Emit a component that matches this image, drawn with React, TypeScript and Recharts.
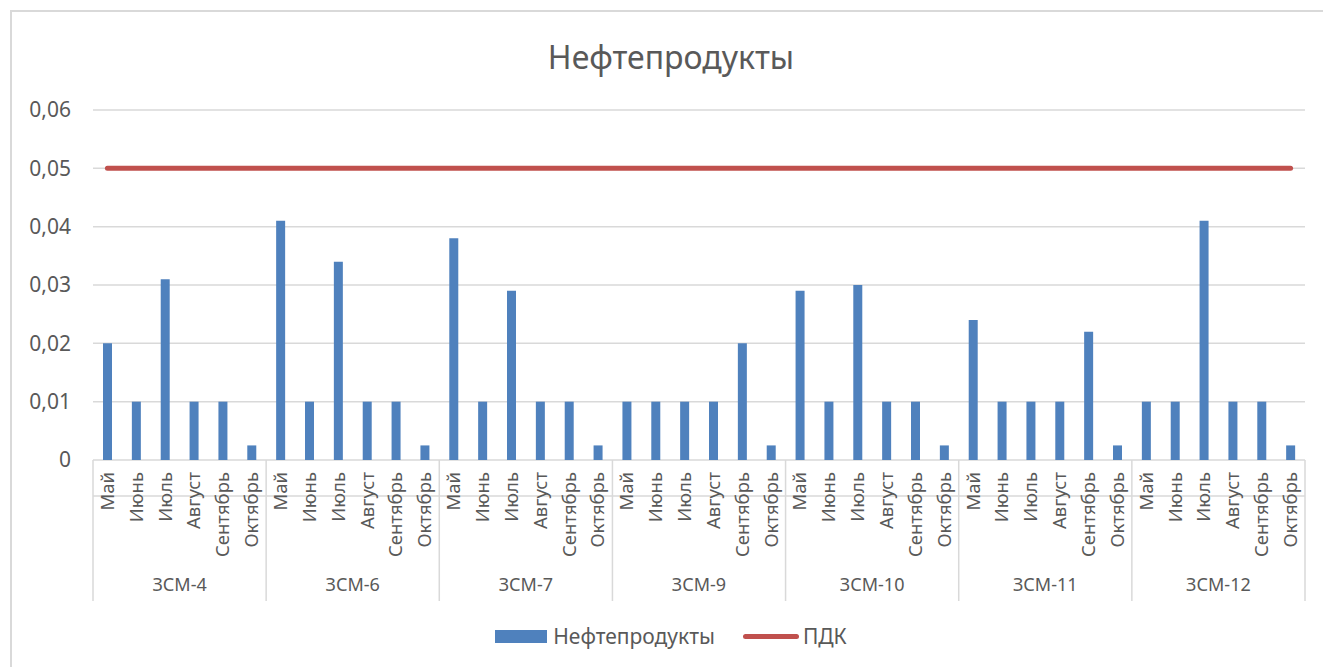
import React from "react";
import {
  ComposedChart,
  Bar,
  Line,
  XAxis,
  YAxis,
  CartesianGrid,
  Legend,
} from "recharts";

// ---------------------------------------------------------------------------
// Data
// ---------------------------------------------------------------------------

const stations = ["ЗСМ-4", "ЗСМ-6", "ЗСМ-7", "ЗСМ-9", "ЗСМ-10", "ЗСМ-11", "ЗСМ-12"];
const months = ["Май", "Июнь", "Июль", "Август", "Сентябрь", "Октябрь"];

const zsm4 = [0.02, 0.01, 0.031, 0.01, 0.01, 0.0025];
const zsm6 = [0.041, 0.01, 0.034, 0.01, 0.01, 0.0025];
const zsm7 = [0.038, 0.01, 0.029, 0.01, 0.01, 0.0025];
const zsm9 = [0.01, 0.01, 0.01, 0.01, 0.02, 0.0025];
const zsm10 = [0.029, 0.01, 0.03, 0.01, 0.01, 0.0025];
const zsm11 = [0.024, 0.01, 0.01, 0.01, 0.022, 0.0025];
const zsm12 = [0.01, 0.01, 0.041, 0.01, 0.01, 0.0025];

const seriesByStation = [zsm4, zsm6, zsm7, zsm9, zsm10, zsm11, zsm12];
const pdk = 0.05;
const yTicks = [0, 0.01, 0.02, 0.03, 0.04, 0.05, 0.06];

// ---------------------------------------------------------------------------
// Layout / style
// ---------------------------------------------------------------------------

const FONT = "'Noto Sans', 'Open Sans', sans-serif";
const TEXT = "#595959";
const GRID = "#D9D9D9";
const BAR = "#4F81BD";
const LINE = "#C0504D";

const WIDTH = 1323;
const HEIGHT = 667;
const PLOT_LEFT = 93;
const PLOT_RIGHT = 1305;
const PLOT_BOTTOM = 460;
const SEPARATOR_BOTTOM = 601;
const CATEGORY_COUNT = stations.length * months.length;
const STEP = (PLOT_RIGHT - PLOT_LEFT) / CATEGORY_COUNT;

const chartData = stations.flatMap((station, si) =>
  months.map((month, mi) => ({
    key: `${station}-${month}`,
    month,
    group: station,
    value: seriesByStation[si][mi],
    pdk,
  }))
);

// ---------------------------------------------------------------------------
// Ticks
// ---------------------------------------------------------------------------

function MonthTick(props: any) {
  const { x, index, payload } = props;
  const idx = index ?? payload?.index ?? 0;
  const label = chartData[idx]?.month ?? payload.value;
  return (
    <g>
      {idx % months.length === 0 && (
        <line
          x1={x - STEP / 2}
          x2={x - STEP / 2}
          y1={PLOT_BOTTOM}
          y2={SEPARATOR_BOTTOM}
          stroke={GRID}
          strokeWidth={1.5}
        />
      )}
      {idx === CATEGORY_COUNT - 1 && (
        <line
          x1={x + STEP / 2}
          x2={x + STEP / 2}
          y1={PLOT_BOTTOM}
          y2={SEPARATOR_BOTTOM}
          stroke={GRID}
          strokeWidth={1.5}
        />
      )}
      <g transform={`translate(${x},${PLOT_BOTTOM + 12})`}>
        <text
          transform="rotate(-90)"
          x={0}
          y={0}
          dy="0.35em"
          textAnchor="end"
          fill={TEXT}
          fontSize={18.5}
          fontFamily={FONT}
        >
          {label}
        </text>
      </g>
    </g>
  );
}

function GroupTick(props: any) {
  const { x, index, payload } = props;
  const idx = index ?? payload?.index ?? 0;
  if (idx % months.length !== 2) return null;
  return (
    <text
      x={x + STEP / 2}
      y={585}
      dy="0.35em"
      textAnchor="middle"
      fill={TEXT}
      fontSize={18}
      fontFamily={FONT}
    >
      {chartData[idx].group}
    </text>
  );
}

// ---------------------------------------------------------------------------
// Legend
// ---------------------------------------------------------------------------

function ChartLegend() {
  return (
    <div
      style={{
        height: 40,
        display: "flex",
        alignItems: "center",
        justifyContent: "center",
        fontFamily: FONT,
        fontSize: 21,
        color: TEXT,
        paddingLeft: 4,
      }}
    >
      <span style={{ display: "inline-block", width: 52, height: 13, background: BAR, marginRight: 6 }} />
      <span>Нефтепродукты</span>
      <span
        style={{
          display: "inline-block",
          width: 56,
          height: 5,
          borderRadius: 3,
          background: LINE,
          marginLeft: 28,
          marginRight: 4,
        }}
      />
      <span>ПДК</span>
    </div>
  );
}

// ---------------------------------------------------------------------------
// App
// ---------------------------------------------------------------------------

export default function App() {
  return (
    <div
      style={{
        position: "absolute",
        left: 0,
        top: 0,
        width: WIDTH,
        height: HEIGHT,
        background: "#fff",
        overflow: "hidden",
      }}
    >
      <div
        style={{
          position: "absolute",
          left: 10,
          top: 10,
          width: 1320,
          height: 680,
          border: `2px solid ${GRID}`,
          boxSizing: "border-box",
        }}
      />
      <div
        style={{
          position: "absolute",
          left: 0,
          width: 1342,
          top: 36,
          textAlign: "center",
          fontFamily: FONT,
          fontSize: 32,
          color: TEXT,
          lineHeight: "42px",
        }}
      >
        Нефтепродукты
      </div>
      <div style={{ position: "absolute", left: 0, top: 0 }}>
        <ComposedChart
          width={WIDTH}
          height={HEIGHT}
          data={chartData}
          margin={{ top: 110, right: WIDTH - PLOT_RIGHT, left: PLOT_LEFT - 60, bottom: 26 }}
        >
          <CartesianGrid vertical={false} stroke={GRID} strokeWidth={1.5} />
          <XAxis
            xAxisId="month"
            dataKey="key"
            interval={0}
            height={105}
            tickLine={false}
            axisLine={{ stroke: GRID, strokeWidth: 1.5 }}
            tick={<MonthTick />}
          />
          <XAxis
            xAxisId="group"
            dataKey="key"
            interval={0}
            height={36}
            tickLine={false}
            axisLine={false}
            tick={<GroupTick />}
          />
          <YAxis
            width={60}
            domain={[0, 0.06]}
            ticks={yTicks}
            interval={0}
            axisLine={false}
            tickLine={false}
            tickMargin={16}
            tick={{ fill: TEXT, fontSize: 21, fontFamily: FONT }}
            tickFormatter={(v: number) => (v === 0 ? "0" : v.toFixed(2).replace(".", ","))}
          />
          <Legend verticalAlign="bottom" height={40} content={<ChartLegend />} wrapperStyle={{ bottom: 11 }} />
          <Bar
            xAxisId="month"
            dataKey="value"
            name="Нефтепродукты"
            fill={BAR}
            barSize={9}
            isAnimationActive={false}
          />
          <Line
            xAxisId="month"
            dataKey="pdk"
            name="ПДК"
            type="linear"
            stroke={LINE}
            strokeWidth={5}
            strokeLinecap="round"
            dot={false}
            activeDot={false}
            isAnimationActive={false}
          />
        </ComposedChart>
      </div>
    </div>
  );
}
